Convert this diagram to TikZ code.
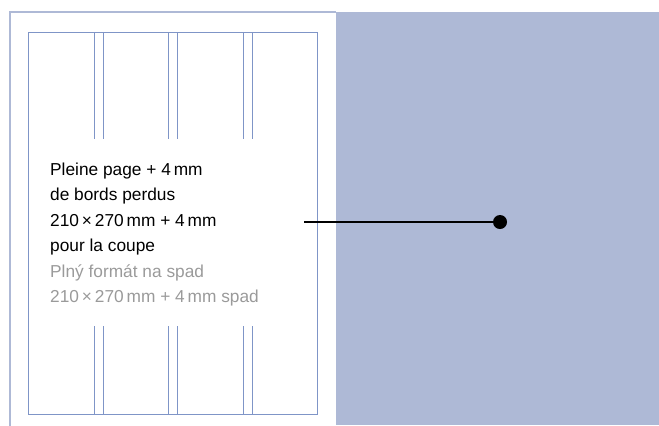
\documentclass[tikz,border=0pt]{standalone}
\usepackage{fontspec}
\setmainfont{Liberation Sans}
\definecolor{bgblue}{HTML}{AEB9D6}
\definecolor{lineblue}{HTML}{7F95C7}
\definecolor{greytext}{HTML}{9A9A9A}
\tikzset{
  pageframe/.style={draw=bgblue, line width=1.3bp},
  trimframe/.style={draw=lineblue, line width=0.9bp},
  guide/.style={draw=lineblue, line width=0.9bp},
  leader/.style={draw=black, line width=1.4bp},
  dotmark/.style={circle, fill=black, inner sep=0pt, minimum size=14bp},
  txt/.style={anchor=base west, inner sep=0pt, align=left, font=\fontsize{17.3bp}{25.5bp}\selectfont}
}
\begin{document}
\begin{tikzpicture}[x=1bp,y=-1bp]
\useasboundingbox (0,0) rectangle (659,425);
% blue background
\fill[bgblue] (336,12) rectangle (659,425);
% outer page frame
\draw[pageframe] (10,426) -- (10,12) -- (336,12);
% trim rectangle
\draw[trimframe] (28.5,32.7) rectangle (317.7,414);
% column guides
\foreach \x in {94,103.3,168.7,177.7,243.3,252.3}{
  \draw[guide] (\x,32.7) -- (\x,139.3);
  \draw[guide] (\x,326) -- (\x,414);
}
% text (base anchor = last line baseline)
\node[txt] (label) at (50,302.7) {Pleine page + 4\,mm\\de bords perdus\\210\,×\,270\,mm + 4\,mm\\pour la coupe\\\textcolor{greytext}{Plný formát na spad}\\\textcolor{greytext}{210\,×\,270\,mm + 4\,mm spad}};
% leader
\coordinate (start) at (304,222);
\node[dotmark] (dot) at (500,222) {};
\draw[leader] (start) -- (dot.center);
\end{tikzpicture}
\end{document}
